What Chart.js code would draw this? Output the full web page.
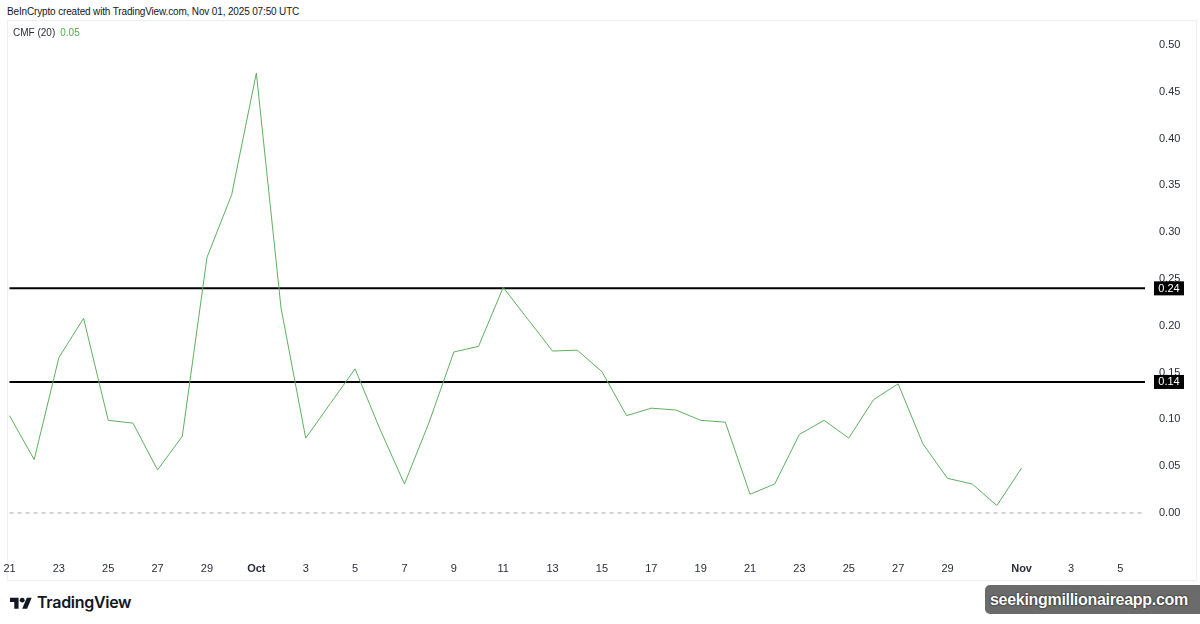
<!DOCTYPE html>
<html>
<head>
<meta charset="utf-8">
<title>CMF (20)</title>
<script src="https://cdn.jsdelivr.net/npm/chart.js@4.4.0/dist/chart.umd.min.js"></script>
<style>
  html, body { margin: 0; padding: 0; background: #fff; }
  body { width: 1200px; height: 624px; position: relative; overflow: hidden;
         font-family: "Liberation Sans", Arial, sans-serif; color: #131722; }
  #header { position: absolute; left: 7px; top: 6px; font-size: 10px; letter-spacing: -0.15px; }
  #frame { position: absolute; left: 7px; top: 20px; width: 1188px; height: 559px;
           border: 1px solid #eeeff2; pointer-events: none; }
  #pane { position: absolute; left: 0; top: 20px; width: 1196px; height: 560px; }
  #legend { position: absolute; left: 13px; top: 27px; font-size: 10px; color: #2a2e39; }
  #legend span { color: #4caf50; margin-left: 5px; }
  #logo { position: absolute; left: 10px; top: 592px; display: flex; align-items: center; }
  #logo span { font-family: Inter, "Noto Sans", sans-serif; font-weight: 600; font-size: 16px;
               margin-left: 5px; letter-spacing: -0.3px; color: #131722; }
  #watermark { position: absolute; left: 985px; top: 585px; width: 222px; height: 29px;
               background: #6b6b6b; border-radius: 5px; color: #fff; font-weight: bold;
               font-size: 16px; letter-spacing: -0.3px; line-height: 29px; padding-left: 5px;
               box-sizing: border-box; text-shadow: 0 0 2px #000; }
</style>
</head>
<body>
<div id="header">BeInCrypto created with TradingView.com, Nov 01, 2025 07:50 UTC</div>
<div id="frame"></div>
<div id="pane"><canvas id="cmfChart"></canvas></div>
<div id="legend">CMF (20)<span>0.05</span></div>
<div id="logo">
  <svg width="22" height="14" viewBox="0 0 36 22">
    <path d="M14 22H7V11H0V4h14v18z" fill="#131722"/>
    <circle cx="20" cy="8" r="4" fill="#131722"/>
    <path d="M28 22h-8l7.5-18h8z" fill="#131722"/>
  </svg>
  <span>TradingView</span>
</div>
<div id="watermark">seekingmillionaireapp.com</div>

<script>
// daily candles, Sep 21 -> Nov 6 (the last days are empty space on the right)
const dates = [
  'Sep 21', 'Sep 22', 'Sep 23', 'Sep 24', 'Sep 25', 'Sep 26', 'Sep 27', 'Sep 28', 'Sep 29', 'Sep 30',
  'Oct 1', 'Oct 2', 'Oct 3', 'Oct 4', 'Oct 5', 'Oct 6', 'Oct 7', 'Oct 8', 'Oct 9', 'Oct 10',
  'Oct 11', 'Oct 12', 'Oct 13', 'Oct 14', 'Oct 15', 'Oct 16', 'Oct 17', 'Oct 18', 'Oct 19', 'Oct 20',
  'Oct 21', 'Oct 22', 'Oct 23', 'Oct 24', 'Oct 25', 'Oct 26', 'Oct 27', 'Oct 28', 'Oct 29', 'Oct 30',
  'Oct 31', 'Nov 1', 'Nov 2', 'Nov 3', 'Nov 4', 'Nov 5', 'Nov 6'
];

// Chaikin Money Flow (20)
const cmf = [
  0.104, 0.057, 0.166, 0.208, 0.099, 0.096, 0.046, 0.082, 0.273, 0.340,
  0.470, 0.219, 0.080, 0.117, 0.154, 0.090, 0.031, 0.097, 0.172, 0.178,
  0.241, 0.207, 0.173, 0.174, 0.151, 0.104, 0.112, 0.110, 0.099, 0.097,
  0.020, 0.031, 0.084, 0.099, 0.080, 0.121, 0.138, 0.074, 0.037, 0.031,
  0.008, 0.048
];

// horizontal levels drawn on the chart
const levels = [0.24, 0.14];
const zeroLine = 0;

// axis ticks
const tickDates = ['Sep 21', 'Sep 23', 'Sep 25', 'Sep 27', 'Sep 29', 'Oct 1', 'Oct 3', 'Oct 5', 'Oct 7',
  'Oct 9', 'Oct 11', 'Oct 13', 'Oct 15', 'Oct 17', 'Oct 19', 'Oct 21', 'Oct 23', 'Oct 25', 'Oct 27',
  'Oct 29', 'Nov 1', 'Nov 3', 'Nov 5'];
const tickTexts = ['21', '23', '25', '27', '29', 'Oct', '3', '5', '7', '9', '11', '13', '15', '17', '19',
  '21', '23', '25', '27', '29', 'Nov', '3', '5'];
const yTicks = [0, 0.05, 0.10, 0.15, 0.20, 0.25, 0.30, 0.35, 0.40, 0.45, 0.50];

const tickFont = { family: '"Liberation Sans", Arial, sans-serif', size: 11 };

// black price-axis boxes for the two levels
const levelBoxes = {
  id: 'levelBoxes',
  afterDraw(chart) {
    const ctx = chart.ctx;
    const y = chart.scales.y;
    ctx.save();
    ctx.font = '11px "Liberation Sans", Arial, sans-serif';
    ctx.textAlign = 'center';
    ctx.textBaseline = 'middle';
    levels.forEach(function(level) {
      const py = y.getPixelForValue(level);
      ctx.fillStyle = '#000';
      ctx.fillRect(y.left + 9, py - 7, 30, 14);
      ctx.fillStyle = '#fff';
      ctx.fillText(level.toFixed(2), y.left + 24, py + 0.5);
    });
    ctx.restore();
  }
};

const levelSets = levels.map(function(level) {
  return {
    data: dates.map(() => level),
    borderColor: '#000',
    borderWidth: 2,
    pointRadius: 0,
    order: 2
  };
});

const ctx = document.getElementById('cmfChart').getContext('2d');
const cmfChart = new Chart(ctx, {
  type: 'line',
  data: {
    labels: dates,
    datasets: [
      {
        label: 'CMF (20)',
        data: cmf,
        borderColor: '#5fb061',
        borderWidth: 1,
        pointRadius: 0,
        tension: 0,
        order: 0
      },
      {
        data: dates.map(() => zeroLine),
        borderColor: '#a3a6af',
        borderWidth: 1,
        borderDash: [4, 4],
        pointRadius: 0,
        order: 3
      },
      ...levelSets
    ]
  },
  options: {
    responsive: true,
    maintainAspectRatio: false,
    animation: false,
    events: [],
    layout: { padding: { left: 9.5, top: 0, right: 0, bottom: 0 } },
    plugins: { legend: { display: false }, tooltip: { enabled: false } },
    scales: {
      x: {
        type: 'category',
        offset: false,
        grid: { display: false, drawTicks: false },
        border: { display: false },
        afterBuildTicks(scale) {
          scale.ticks = tickDates.map(d => ({ value: dates.indexOf(d) }));
        },
        afterFit(scale) {
          scale.height = 32;
          // let the first label hang off the left edge, like TradingView
          scale.paddingLeft = 0;
          scale.paddingRight = 0;
        },
        ticks: {
          autoSkip: false,
          maxRotation: 0,
          padding: 14,
          color: '#2a2e39',
          font(c) {
            const t = c.tick && c.tick.label;
            return (t === 'Oct' || t === 'Nov') ? Object.assign({}, tickFont, { weight: 'bold' }) : tickFont;
          },
          callback(value) {
            return tickTexts[tickDates.indexOf(dates[value])];
          }
        }
      },
      y: {
        position: 'right',
        min: -0.0374,
        max: 0.5267,
        grid: { display: false, drawTicks: false },
        border: { display: false },
        afterBuildTicks(scale) {
          scale.ticks = yTicks.map(v => ({ value: v }));
        },
        afterFit(scale) {
          scale.width = 51;
          scale.paddingTop = 0;
          scale.paddingBottom = 0;
        },
        ticks: {
          padding: 14,
          color: '#2a2e39',
          font: tickFont,
          callback(value) { return value.toFixed(2); }
        }
      }
    }
  },
  plugins: [levelBoxes]
});
</script>
</body>
</html>
